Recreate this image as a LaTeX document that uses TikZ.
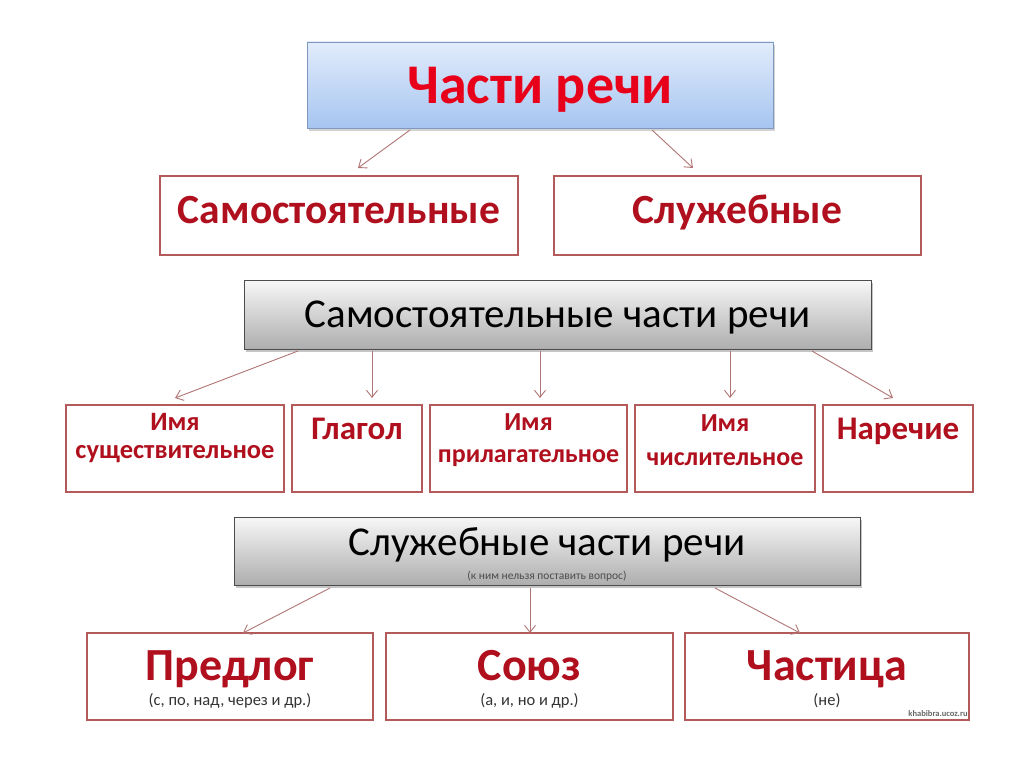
\documentclass[tikz,border=0pt]{standalone}
\usepackage{fontspec}
\setmainfont{Carlito}
\usetikzlibrary{arrows.meta,shadows}
\definecolor{boxred}{HTML}{B45A5A}
\definecolor{txtred}{HTML}{B0101E}
\definecolor{titlered}{HTML}{E8001A}
\definecolor{arrowc}{HTML}{B07474}
\definecolor{tbtop}{HTML}{E2ECFB}
\definecolor{tbbot}{HTML}{A6C5F0}
\definecolor{tbborder}{HTML}{8098C0}
\newcommand{\fs}[1]{\fontsize{#1}{#1}\selectfont}
\tikzset{
  redbox/.style={draw=boxred, line width=1.6pt, fill=white, inner sep=0pt},
  graybox/.style={draw=black!70, line width=0.8pt, top color=black!3, bottom color=black!32, inner sep=0pt,
    drop shadow={shadow xshift=2pt, shadow yshift=-3pt, opacity=0.45}},
  titlebox/.style={draw=tbborder, line width=0.8pt, top color=tbtop, bottom color=tbbot, inner sep=0pt,
    drop shadow={shadow xshift=2pt, shadow yshift=-3pt, opacity=0.35}},
  arr/.style={draw=arrowc, line width=0.9pt, -{Straight Barb[length=7pt,width=11pt]}},
  btxt/.style={text=txtred, inner sep=0pt, anchor=base},
  ntxt/.style={text=black, inner sep=0pt, anchor=base},
}
\begin{document}
\begin{tikzpicture}[x=1pt,y=-1pt]
\useasboundingbox[fill=white] (0,0) rectangle (1024,767);
% title
\node[titlebox, minimum width=466pt, minimum height=86pt] (title) at (540,85) {};
\node[btxt, text=titlered, font=\bfseries\fs{56}] (titlet) at (540,104) {Части речи};
% second row
\node[redbox, minimum width=358pt, minimum height=79pt] (sam) at (339,215.5) {};
\node[btxt, font=\bfseries\fs{41.5}] (samt) at (339,224) {Самостоятельные};
\node[redbox, minimum width=367pt, minimum height=79pt] (slu) at (737.5,215.5) {};
\node[btxt, font=\bfseries\fs{41.5}] (slut) at (737.5,224) {Служебные};
\draw[arr] (410,130) -- (358,168);
\draw[arr] (652,130) -- (693,168);
% gray box 1
\node[graybox, minimum width=627pt, minimum height=69pt] (g1) at (557.5,314.5) {};
\node[ntxt, font=\fs{41}] (g1t) at (557.5,327) {Самостоятельные части речи};
% five boxes
\node[redbox, minimum width=218pt, minimum height=87pt] (b1) at (175,448.5) {};
\node[btxt, font=\bfseries\fs{26.5}] (b1a) at (175,430) {Имя};
\node[btxt, font=\bfseries\fs{26.5}] (b1b) at (175,458) {существительное};
\node[redbox, minimum width=130pt, minimum height=87pt] (b2) at (357,448.5) {};
\node[btxt, font=\bfseries\fs{33}] (b2t) at (357,439) {Глагол};
\node[redbox, minimum width=197pt, minimum height=87pt] (b3) at (528.5,448.5) {};
\node[btxt, font=\bfseries\fs{26}] (b3a) at (528.5,430) {Имя};
\node[btxt, font=\bfseries\fs{26}] (b3b) at (528.5,462) {прилагательное};
\node[redbox, minimum width=180pt, minimum height=87pt] (b4) at (725,448.5) {};
\node[btxt, font=\bfseries\fs{26}] (b4a) at (725,431) {Имя};
\node[btxt, font=\bfseries\fs{26}] (b4b) at (725,465) {числительное};
\node[redbox, minimum width=150pt, minimum height=87pt] (b5) at (898,448.5) {};
\node[btxt, font=\bfseries\fs{33}] (b5t) at (898,439) {Наречие};
\coordinate (s1) at (298,351); \coordinate (s2) at (372,351); \coordinate (s3) at (540,351);
\coordinate (s4) at (730,351); \coordinate (s5) at (812,351);
\draw[arr] (s1) -- (175,398);
\draw[arr] (s2) -- (372,398);
\draw[arr] (s3) -- (540,398);
\draw[arr] (s4) -- (730,398);
\draw[arr] (s5) -- (893,398);
% gray box 2
\node[graybox, minimum width=626pt, minimum height=68pt] (g2) at (547,551) {};
\node[ntxt, font=\fs{41}] (g2t) at (547,555) {Служебные части речи};
\node[ntxt, font=\fs{11.5}, text=black!70] (g2s) at (547,579) {(к ним нельзя поставить вопрос)};
% bottom boxes
\node[redbox, minimum width=286pt, minimum height=87pt] (c1) at (230,676.5) {};
\node[btxt, font=\bfseries\fs{46}] (c1t) at (230,680) {Предлог};
\node[ntxt, font=\fs{16.5}, text=black!80] (c1s) at (230,705) {(с, по, над, через и др.)};
\node[redbox, minimum width=287pt, minimum height=87pt] (c2) at (529.5,676.5) {};
\node[btxt, font=\bfseries\fs{46}] (c2t) at (529.5,680) {Союз};
\node[ntxt, font=\fs{16.5}, text=black!80] (c2s) at (529.5,705) {(а, и, но и др.)};
\node[redbox, minimum width=284pt, minimum height=87pt] (c3) at (827,676.5) {};
\node[btxt, font=\bfseries\fs{46}] (c3t) at (827,680) {Частица};
\node[ntxt, font=\fs{16.5}, text=black!80] (c3s) at (827,705) {(не)};
\draw[arr] (330,588) -- (243,633);
\draw[arr] (530,588) -- (530,633);
\draw[arr] (715,588) -- (800,633);
\node[ntxt, font=\bfseries\fs{8.5}, text=black!60] (wm) at (938,716) {khabibra.ucoz.ru};
\end{tikzpicture}
\end{document}
